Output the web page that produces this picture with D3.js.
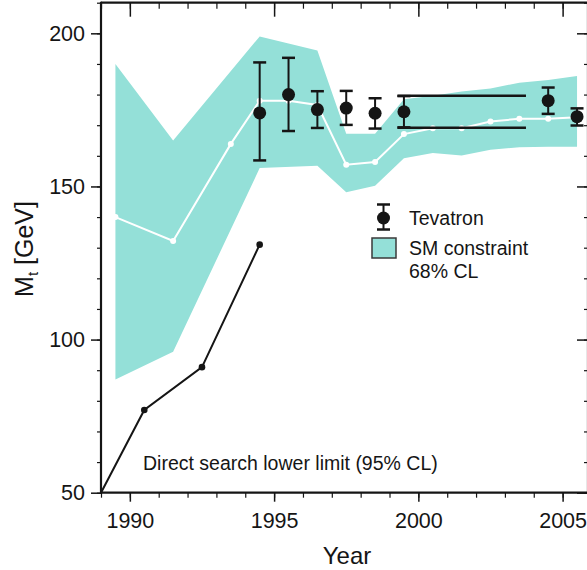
<!DOCTYPE html>
<html>
<head>
<meta charset="utf-8">
<script src="https://cdn.jsdelivr.net/npm/d3@7"></script>
<style>
  html, body { margin: 0; padding: 0; background: #fff; }
  svg { display: block; }
  text { font-family: "Liberation Sans", Arial, Helvetica, sans-serif; fill: #151515; }
</style>
</head>
<body>
<svg id="chart" width="587" height="570"></svg>
<script>
// ---------- data ----------
const bandUpperYears = [1989.5, 1991.5, 1994.5, 1996.5, 1997.5, 1998.5, 1999.5, 2000.5, 2001.5, 2002.5, 2003.5, 2004.5, 2005.5];
const bandUpper      = [190,    165,    199,    194.4,  167.2,  167.2,  178.5,  179.6,  181,    182,    183.9,  184.8,  186.1];
const bandLowerYears = [1989.5, 1991.5, 1994.5, 1996.5, 1997.5, 1998.5, 1999.5, 2000.5, 2001.5, 2002.5, 2003.5, 2004.5, 2005.5];
const bandLower      = [87,     96,     156,    156.8,  148.1,  150.2,  159.2,  160.9,  160.1,  162,    162.8,  163,    163];

const fitYears = [1989.5, 1991.5, 1993.5, 1994.5, 1995.5, 1996.5, 1997.5, 1998.5, 1999.5, 2000.5, 2001.5, 2002.5, 2003.5, 2004.5, 2005.5];
const fitMass  = [140,    132.2,  163.9,  178,    178,    176.6,  157.1,  158,    167.1,  169,    169,    171.2,  172.1,  172.1,  172.6];

const tevYears = [1994.5, 1995.5, 1996.5, 1997.5, 1998.5, 1999.5, 2004.5, 2005.5];
const tevMass  = [174,    180,    175.1,  175.6,  173.9,  174.4,  178,    172.8];
const tevHigh  = [190.5,  192,    181.1,  181.2,  178.8,  179.5,  182.3,  175.5];
const tevLow   = [158.5,  168.1,  169.1,  170.1,  168.9,  169.3,  173.7,  169.9];

const rangeStartYear = 1999.5, rangeEndYear = 2003.73;
const rangeHigh = 179.6, rangeLow = 169.2;

const searchYears = [1989, 1990.5, 1992.5, 1994.5];
const searchMass  = [50,   77,     91,     131];

const xMajorTicks = [1990, 1995, 2000, 2005];
const yMajorTicks = [50, 100, 150, 200];

// ---------- layout ----------
const svg = d3.select("#chart");
const x = d3.scaleLinear().domain([1989, 2005.88]).range([101, 588]);
const y = d3.scaleLinear().domain([50, 210]).range([492.7, 2.7]);
const ink = "#151515";
const teal = "#94e0d8";

const xMinor = d3.range(1989, 2006, 1);
const yMinor = d3.range(50, 211, 10);

// band polygon
const poly = bandUpperYears.map((yr, i) => [x(yr), y(bandUpper[i])])
  .concat(bandLowerYears.map((yr, i) => [x(yr), y(bandLower[i])]).reverse());
svg.append("path")
  .attr("d", "M" + poly.map(p => p.join(",")).join("L") + "Z")
  .attr("fill", teal);

// SM fit line (white)
const line = d3.line().x(d => x(d[0])).y(d => y(d[1]));
const fitPts = fitYears.map((yr, i) => [yr, fitMass[i]]);
svg.append("path").attr("d", line(fitPts))
  .attr("fill", "none").attr("stroke", "#fff").attr("stroke-width", 2);
svg.selectAll(".fitdot").data(fitPts).enter().append("circle")
  .attr("cx", d => x(d[0])).attr("cy", d => y(d[1])).attr("r", 3)
  .attr("fill", "#fff");

// direct search lower limit
const sPts = searchYears.map((yr, i) => [yr, searchMass[i]]);
svg.append("path").attr("d", line(sPts))
  .attr("fill", "none").attr("stroke", ink).attr("stroke-width", 2);
svg.selectAll(".sdot").data(sPts.slice(1)).enter().append("circle")
  .attr("cx", d => x(d[0])).attr("cy", d => y(d[1])).attr("r", 3.3)
  .attr("fill", ink);

// horizontal average range lines
const cap = 6.5;
[rangeHigh, rangeLow].forEach(v => {
  svg.append("line")
    .attr("x1", x(rangeStartYear) - cap).attr("x2", x(rangeEndYear))
    .attr("y1", y(v)).attr("y2", y(v))
    .attr("stroke", ink).attr("stroke-width", 2.5);
});

// Tevatron points
const tev = tevYears.map((yr, i) => ({yr, m: tevMass[i], hi: tevHigh[i], lo: tevLow[i]}));
const g = svg.append("g");
tev.forEach(d => {
  const cx = x(d.yr);
  g.append("line").attr("x1", cx).attr("x2", cx).attr("y1", y(d.hi)).attr("y2", y(d.lo))
    .attr("stroke", ink).attr("stroke-width", 2);
  [d.hi, d.lo].forEach(v => g.append("line")
    .attr("x1", cx - cap).attr("x2", cx + cap).attr("y1", y(v)).attr("y2", y(v))
    .attr("stroke", ink).attr("stroke-width", 2.5));
  g.append("circle").attr("cx", cx).attr("cy", y(d.m)).attr("r", 6.5).attr("fill", ink);
});

// ---------- axes ----------
function styleAxis(sel, width) {
  sel.select(".domain").remove();
  sel.selectAll("line").attr("stroke", ink).attr("stroke-width", width);
}
// bottom
svg.append("g").attr("transform", `translate(0,${y(50)})`)
  .call(d3.axisBottom(x).tickValues(xMinor).tickSize(5).tickFormat(""))
  .call(s => styleAxis(s, 1.2));
const bx = svg.append("g").attr("transform", `translate(0,${y(50)})`)
  .call(d3.axisBottom(x).tickValues(xMajorTicks).tickSize(9).tickPadding(11).tickFormat(d3.format("d")))
  .call(s => styleAxis(s, 1.5));
bx.selectAll("text").attr("font-size", 21.5).attr("fill", ink);
// top
svg.append("g").attr("transform", `translate(0,${y(210)})`)
  .call(d3.axisTop(x).tickValues(xMinor).tickSize(-6).tickFormat(""))
  .call(s => styleAxis(s, 1.2));
svg.append("g").attr("transform", `translate(0,${y(210)})`)
  .call(d3.axisTop(x).tickValues(xMajorTicks).tickSize(-14).tickFormat(""))
  .call(s => styleAxis(s, 1.5));
// left
svg.append("g").attr("transform", `translate(${x(1989)},0)`)
  .call(d3.axisLeft(y).tickValues(yMinor).tickSize(4).tickFormat(""))
  .call(s => styleAxis(s, 1.2));
const ly = svg.append("g").attr("transform", `translate(${x(1989)},0)`)
  .call(d3.axisLeft(y).tickValues(yMajorTicks).tickSize(10).tickPadding(6).tickFormat(d3.format("d")))
  .call(s => styleAxis(s, 1.5));
ly.selectAll("text").attr("font-size", 21.5).attr("fill", ink);
// right
svg.append("g").attr("transform", `translate(588,0)`)
  .call(d3.axisRight(y).tickValues(yMinor).tickSize(-4).tickFormat(""))
  .call(s => styleAxis(s, 1.2));
svg.append("g").attr("transform", `translate(588,0)`)
  .call(d3.axisRight(y).tickValues(yMajorTicks).tickSize(-11).tickFormat(""))
  .call(s => styleAxis(s, 1.5));

// frame lines
svg.append("line").attr("x1", x(1989)).attr("x2", 588).attr("y1", y(50)).attr("y2", y(50))
  .attr("stroke", ink).attr("stroke-width", 2.2);
svg.append("line").attr("x1", x(1989)).attr("x2", 588).attr("y1", y(210)).attr("y2", y(210))
  .attr("stroke", ink).attr("stroke-width", 2.2);
svg.append("line").attr("x1", x(1989)).attr("x2", x(1989)).attr("y1", y(210) - 1).attr("y2", y(50) + 1)
  .attr("stroke", ink).attr("stroke-width", 2.2);
svg.append("line").attr("x1", 588).attr("x2", 588).attr("y1", y(210)).attr("y2", y(50))
  .attr("stroke", ink).attr("stroke-width", 2.2);

// axis titles
svg.append("text").attr("x", 347).attr("y", 564).attr("text-anchor", "middle")
  .attr("font-size", 24).text("Year");
const yt = svg.append("text").attr("transform", "translate(33,249) rotate(-90)")
  .attr("text-anchor", "middle").attr("font-size", 25);
yt.append("tspan").text("M");
yt.append("tspan").attr("font-size", 15).attr("dy", 5).text("t");
yt.append("tspan").attr("dy", -5).text(" [GeV]");

// annotation
svg.append("text").attr("x", 143).attr("y", 470).attr("font-size", 19.5)
  .text("Direct search lower limit (95% CL)");

// legend
const lgx = 383.5, lgy = 218;
svg.append("line").attr("x1", lgx).attr("x2", lgx).attr("y1", 204.5).attr("y2", 229.5)
  .attr("stroke", ink).attr("stroke-width", 2);
[204.5, 229.5].forEach(v => svg.append("line").attr("x1", lgx - cap).attr("x2", lgx + cap)
  .attr("y1", v).attr("y2", v).attr("stroke", ink).attr("stroke-width", 2.5));
svg.append("circle").attr("cx", lgx).attr("cy", lgy).attr("r", 6.5).attr("fill", ink);
svg.append("text").attr("x", 409).attr("y", 225).attr("font-size", 19.5).text("Tevatron");
svg.append("rect").attr("x", 372).attr("y", 238).attr("width", 24).attr("height", 20)
  .attr("fill", teal).attr("stroke", "#3a3a3a").attr("stroke-width", 1.5);
svg.append("text").attr("x", 409).attr("y", 255).attr("font-size", 19.5).text("SM constraint");
svg.append("text").attr("x", 409).attr("y", 278).attr("font-size", 19.5).text("68% CL");
</script>
</body>
</html>
